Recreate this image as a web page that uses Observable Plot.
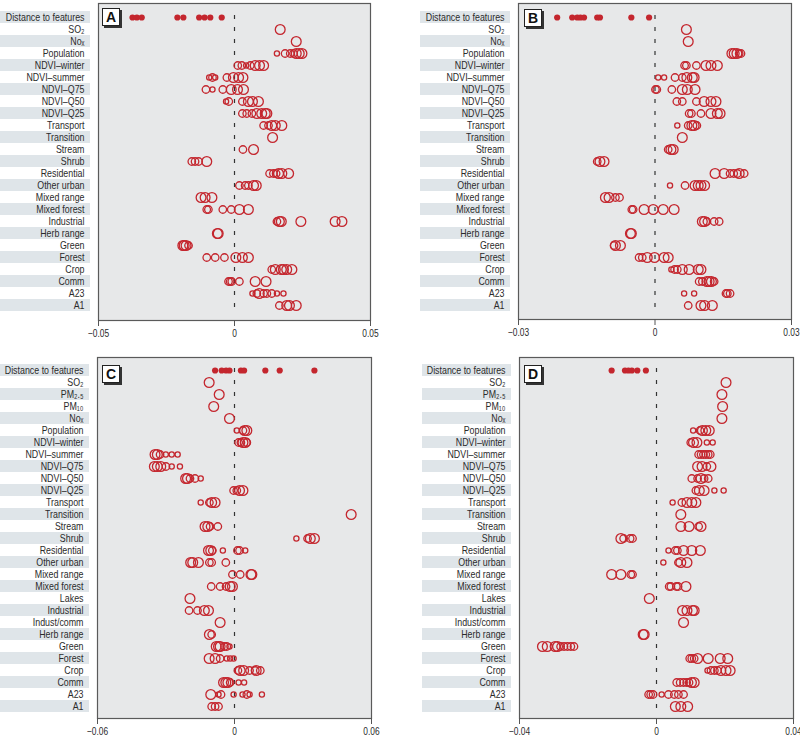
<!DOCTYPE html>
<html>
<head>
<meta charset="utf-8">
<script src="https://cdn.jsdelivr.net/npm/d3@7"></script>
<script src="https://cdn.jsdelivr.net/npm/@observablehq/plot@0.6"></script>
<style>
  body { margin: 0; background: #fff; }
  #chart { position: relative; width: 800px; height: 738px; overflow: hidden;
    font-family: "Liberation Sans", Arial, sans-serif; }
  .panel { position: absolute; }
  .tag { position: absolute; width: 16px; height: 16px; background: #fff; border: 1px solid #222;
    box-shadow: 2px 2px 0 #333; font: bold 14px "Liberation Sans", Arial, sans-serif;
    line-height: 16px; text-align: center; color: #111; }
</style>
</head>
<body>
<div id="chart"></div>
<script>
// ---------- DATA ----------
const rowsAB = ["Distance to features","SO₂","Noₓ","Population","NDVI–winter","NDVI–summer","NDVI–Q75","NDVI–Q50","NDVI–Q25","Transport","Transition","Stream","Shrub","Residential","Other urban","Mixed range","Mixed forest","Industrial","Herb range","Green","Forest","Crop","Comm","A23","A1"];
const rowsCD = ["Distance to features","SO₂","PM₂.₅","PM₁₀","Noₓ","Population","NDVI–winter","NDVI–summer","NDVI–Q75","NDVI–Q50","NDVI–Q25","Transport","Transition","Stream","Shrub","Residential","Other urban","Mixed range","Mixed forest","Lakes","Industrial","Indust/comm","Herb range","Green","Forest","Crop","Comm","A23","A1"];

const ticksA = [-0.05, 0, 0.05];
const ticksB = [-0.03, 0, 0.03];
const ticksC = [-0.06, 0, 0.06];
const ticksD = [-0.04, 0, 0.04];

const valuesA = [
  [-0.0375,-0.0359,-0.0341,-0.021,-0.0188,-0.013,-0.011,-0.0089,-0.0047],
  [0.0168],
  [0.0227],
  [0.0156,0.0186,0.0205,0.0217,0.0227,0.0238,0.0248],
  [0.0012,0.0027,0.0043,0.0058,0.0076,0.0092,0.0107],
  [-0.0093,-0.0081,-0.0071,-0.0028,-0.0004,0.0015,0.0031],
  [-0.0105,-0.0081,-0.0043,-0.0012,0.0011,0.0033],
  [-0.0031,-0.0021,0.0029,0.0051,0.0066,0.0088],
  [0.0029,0.0045,0.0064,0.0082,0.01,0.0113,0.0119],
  [0.0107,0.0125,0.0137,0.015,0.0174],
  [0.014],
  [0.0031,0.007],
  [-0.0157,-0.0145,-0.0132,-0.0102],
  [0.0129,0.0143,0.0153,0.0162,0.0174,0.0199],
  [0.0018,0.0039,0.0051,0.007,0.008],
  [-0.0123,-0.0108,-0.0083],
  [-0.0102,-0.0096,-0.0043,-0.0012,0.0018,0.0051],
  [0.0156,0.0165,0.0172,0.0244,0.037,0.0395],
  [-0.0063,-0.006],
  [-0.019,-0.0185,-0.0178,-0.0169],
  [-0.0102,-0.0071,-0.0037,0.0005,0.0029,0.0051],
  [0.0137,0.015,0.0172,0.018,0.0192,0.0211],
  [-0.0022,-0.0016,-0.001,0.0018,0.0076,0.0116],
  [0.0066,0.0082,0.0091,0.0107,0.0119,0.0137,0.0156,0.018],
  [0.0165,0.0192,0.0202,0.0227]
];
const sizesA = [
  [],[3],[3],[1,2,2,2,3,3,3],[2,2,1,2,3,3,3],[1,2,1,2,3,3,3],[2,1,2,3,3,3],[1,2,2,3,3,3],
  [2,2,2,3,3,3,3],[2,2,3,3,3],[3],[2,3],[2,2,2,3],[2,2,2,3,3,3],[2,2,2,3,3],[3,3,3],
  [2,2,2,2,3,3],[2,3,3,3,3,3],[3,3],[3,3,3,2],[2,2,2,3,3,3],[2,3,3,3,3,3],[2,2,2,2,3,3],
  [1,2,3,2,2,2,1,1],[2,3,3,3]
];

const valuesB = [
  [-0.0215,-0.0182,-0.0171,-0.0164,-0.0156,-0.0127,-0.0121,-0.0052,-0.0013],
  [0.0069],
  [0.0073],
  [0.0169,0.0174,0.018,0.0185,0.0189],
  [0.0065,0.0069,0.0091,0.0112,0.0123,0.0137],
  [0.0007,0.002,0.0044,0.006,0.007,0.0082,0.0086],
  [0.0001,0.0004,0.0037,0.006,0.0071,0.0088],
  [0.0048,0.006,0.0091,0.0108,0.0123,0.0134],
  [0.0075,0.008,0.0101,0.0123,0.0137,0.0143],
  [0.0049,0.0073,0.0081,0.0086,0.0092],
  [0.006],
  [0.0029,0.0035,0.004],
  [-0.0127,-0.0121,-0.0112],
  [0.0132,0.0152,0.0165,0.0173,0.0181,0.0185,0.0196],
  [0.0033,0.0066,0.0088,0.0095,0.0101,0.0109],
  [-0.0109,-0.0101,-0.0087,-0.0078],
  [-0.0051,-0.0048,-0.0024,-0.0004,0.0018,0.0042],
  [0.0104,0.0109,0.0114,0.013,0.0141],
  [-0.0054,-0.0052],
  [-0.009,-0.0087,-0.0076],
  [-0.0035,-0.0028,-0.0017,-0.0001,0.002,0.0029],
  [0.0036,0.0043,0.0049,0.006,0.0075,0.0095,0.0101],
  [0.0097,0.0104,0.0114,0.0119,0.0124,0.013],
  [0.0064,0.0086,0.0156,0.0159,0.0165],
  [0.0073,0.0101,0.0109,0.0126]
];
const sizesB = [
  [],[3],[3],[3,3,3,2,2],[2,2,2,3,3,3],[1,1,2,2,3,3,3],[2,2,2,3,3,3],[2,2,2,3,3,3],
  [2,2,2,3,3,3],[1,2,3,3,2],[3],[2,3,3],[2,3,3],[3,3,2,2,2,3,2],[1,2,3,3,3,3],[3,3,2,2],
  [2,2,3,3,3,3],[3,3,2,2,2],[3,3],[2,3,3],[2,2,3,3,3,3],[1,2,2,3,3,3,3],[2,2,3,3,3,2],
  [1,1,2,2,2],[2,3,3,3]
];

const valuesC = [
  [-0.0085,-0.0056,-0.0037,-0.0022,0.0028,0.0042,0.0135,0.0198,0.035],
  [-0.0111],
  [-0.0067],
  [-0.0091],
  [-0.0022],
  [0.001,0.0037,0.0044,0.0054],
  [0.0018,0.0028,0.0037,0.0047,0.0054],
  [-0.0348,-0.0338,-0.0326,-0.0301,-0.0275,-0.0249],
  [-0.0351,-0.0338,-0.0323,-0.03,-0.0275,-0.0239],
  [-0.0214,-0.0206,-0.0195,-0.0173,-0.0148],
  [-0.0004,0.001,0.0022,0.0037],
  [-0.0148,-0.011,-0.01,-0.0085],
  [0.0511],
  [-0.0129,-0.0117,-0.0107,-0.0073],
  [0.0271,0.032,0.0332,0.035],
  [-0.0114,-0.0104,-0.0097,-0.0051,0.0013,0.0022,0.0047],
  [-0.0192,-0.0183,-0.0158,-0.011,-0.01,-0.0038],
  [-0.0009,0.0025,0.0072,0.0076],
  [-0.0102,-0.0063,-0.0037,-0.0019,-0.0009],
  [-0.0195],
  [-0.0199,-0.0162,-0.0132,-0.0114],
  [-0.0063],
  [-0.011,-0.01],
  [-0.008,-0.007,-0.0063,-0.0044,-0.0034,-0.0022],
  [-0.0111,-0.0085,-0.0063,-0.0034,-0.0019,-0.0004],
  [0.0015,0.0025,0.004,0.0066,0.0091,0.0095,0.0113],
  [-0.0048,-0.0038,-0.0029,-0.0019,0.0018,0.0042],
  [-0.0104,-0.007,-0.0059,-0.0004,0.0035,0.0054,0.0066,0.012],
  [-0.01,-0.0085,-0.007]
];
const sizesC = [
  [],[3],[3],[3],[3],[1,2,3,3],[2,2,3,3,2],[3,3,2,1,1,1],[3,3,3,2,1,1],[3,3,2,2,1],
  [2,2,3,3],[1,2,3,3],[3],[3,3,2,2],[1,2,3,3],[3,3,2,1,2,2,1],[3,3,3,2,2,2],[2,2,3,3],
  [2,2,2,3,3],[3],[2,2,3,3],[3],[3,2],[3,3,3,2,2,1],[3,3,2,1,1,1],[2,3,3,2,2,3,2],
  [3,3,3,2,1,1],[3,1,2,1,1,2,1,1],[2,2,2]
];

const valuesD = [
  [-0.0131,-0.0092,-0.0082,-0.0072,-0.0056,-0.0031],
  [0.0203],
  [0.0191],
  [0.0193],
  [0.0191],
  [0.0107,0.0127,0.0134,0.0144,0.0154],
  [0.01,0.0108,0.0118,0.0147,0.0164],
  [0.0123,0.013,0.0137,0.0144,0.0151,0.0157],
  [0.012,0.0133,0.0147,0.0159],
  [0.0103,0.012,0.013,0.0139,0.0151],
  [0.0115,0.0125,0.0139,0.0169,0.0196],
  [0.0047,0.0074,0.0089,0.0103,0.0115],
  [0.0071],
  [0.0071,0.0095,0.0123,0.013],
  [-0.0104,-0.0096,-0.0077,-0.007],
  [0.0035,0.0055,0.0061,0.0079,0.0103,0.0128],
  [0.002,0.0064,0.0071,0.0089],
  [-0.0131,-0.0104,-0.0075,-0.007],
  [0.0037,0.0042,0.0058,0.0063,0.0086],
  [-0.0021],
  [0.0076,0.0089,0.0105,0.011],
  [0.0079],
  [-0.0039,-0.0036],
  [-0.0333,-0.0319,-0.0296,-0.0289,-0.028,-0.027,-0.026,-0.025,-0.0241],
  [0.0097,0.0103,0.011,0.012,0.0151,0.0186,0.0208],
  [0.0149,0.0159,0.0169,0.0178,0.0188,0.0203,0.0215],
  [0.0059,0.0069,0.0079,0.0088,0.0095,0.0102,0.011],
  [-0.0023,-0.0017,-0.001,0.0015,0.0035,0.0052,0.0064,0.0079],
  [0.0055,0.0071,0.0091]
];
const sizesD = [
  [],[3],[3],[3],[3],[1,2,3,3,3],[2,3,3,1,1],[2,2,2,2,2,2],[3,3,2,3],[2,2,3,2,2],
  [2,3,3,1,1],[1,2,3,3,3],[3],[3,3,2,3],[3,2,2,2],[1,2,2,3,3,3],[1,2,3,3],[3,3,2,2],
  [2,2,2,2,3],[3],[3,3,3,3],[3],[3,3],[3,3,3,3,2,2,2,2,2],[2,2,2,3,3,3,3],[1,2,2,2,3,3,3],
  [2,2,2,2,2,3,3],[2,2,2,1,2,2,2,2],[3,3,3]
];

// ---------- STYLE ----------
const RED = "#c4262e";
const STRIPE = "#dfe5e9";
const PANEL_BG = "#e7e8e9";
const FONT = '"Liberation Sans", Arial, sans-serif';
const fmt = d => d === 0 ? "0" : d3.format(".2~f")(d);

function condense(svg, selector, factor) {
  svg.querySelectorAll(selector).forEach(t => {
    const w = t.getComputedTextLength();
    if (w > 0) {
      t.setAttribute("textLength", (w * factor).toFixed(2));
      t.setAttribute("lengthAdjust", "spacingAndGlyphs");
    }
  });
}

function panel(cfg) {
  const {rows, values, sizes, ticks, left, top, width, height, mL, mR, mT, mB, inT, inB, stripeStart, tag, tagX, tagY} = cfg;
  const dom = [ticks[0], ticks[ticks.length - 1]];
  const frameW = width - mL - mR;
  const pts = [];
  const dist = [];
  rows.forEach((r, i) => values[i].forEach((v, j) => {
    if (i === 0) dist.push({row: r, v});
    else pts.push({row: r, v, s: sizes[i][j]});
  }));
  const shaded = rows.filter((d, i) => i % 2 === 0);
  const svg = Plot.plot({
    width, height,
    marginLeft: mL, marginRight: mR, marginTop: mT, marginBottom: mB,
    style: {fontFamily: FONT, fontSize: "11.5px", color: "#2b2b2b", background: "transparent", overflow: "visible"},
    x: {domain: dom, label: null},
    y: {domain: rows, type: "band", padding: 0, insetTop: inT, insetBottom: inB, label: null},
    r: {type: "linear", domain: [1, 3], range: [2.6, 4.9]},
    marks: [
      Plot.barX(shaded, {x1: () => dom[0], x2: () => dom[1], y: d => d, fill: STRIPE,
        insetLeft: -(mL - stripeStart), insetRight: frameW + 8}),
      Plot.frame({fill: PANEL_BG, stroke: "#5a5a5a", strokeWidth: 1.2}),
      Plot.tickX(rows, {x: () => 0, y: d => d, stroke: "#333", strokeWidth: 1.2, inset: 4}),
      Plot.dot(pts, {x: "v", y: "row", r: "s", stroke: RED, fill: "none", strokeWidth: 1.3}),
      Plot.dot(dist, {x: "v", y: "row", r: 3.1, fill: RED, stroke: "none"}),
      Plot.axisY({tickSize: 0, tickPadding: 14, fontSize: 11.5, label: null}),
      Plot.axisX({ticks, tickFormat: fmt, tickSize: 6, tickPadding: 3, fontSize: 10.5, stroke: "#555", label: null})
    ]
  });
  const wrap = document.createElement("div");
  wrap.className = "panel";
  wrap.style.left = left + "px";
  wrap.style.top = top + "px";
  wrap.appendChild(svg);
  document.getElementById("chart").appendChild(wrap);
  condense(svg, '[aria-label="y-axis tick label"] text', 0.77);
  condense(svg, '[aria-label="x-axis tick label"] text', 0.8);
  const t = document.createElement("div");
  t.className = "tag";
  t.textContent = tag;
  t.style.left = tagX + "px";
  t.style.top = tagY + "px";
  document.getElementById("chart").appendChild(t);
}

panel({rows: rowsAB, values: valuesA, sizes: sizesA, ticks: ticksA, left: 0, top: 0, width: 400, height: 345,
  mL: 98, mR: 30, mT: 3, mB: 25, inT: 1.5, inB: 3, stripeStart: 0, tag: "A", tagX: 102, tagY: 8});
panel({rows: rowsAB, values: valuesB, sizes: sizesB, ticks: ticksB, left: 400, top: 0, width: 400, height: 345,
  mL: 118, mR: 9, mT: 3, mB: 26, inT: 1.5, inB: 2.5, stripeStart: 20, tag: "B", tagX: 524, tagY: 9});
panel({rows: rowsCD, values: valuesC, sizes: sizesC, ticks: ticksC, left: 0, top: 350, width: 400, height: 388,
  mL: 97, mR: 29, mT: 7, mB: 20, inT: 2.5, inB: 1, stripeStart: 0, tag: "C", tagX: 102, tagY: 365});
panel({rows: rowsCD, values: valuesD, sizes: sizesD, ticks: ticksD, left: 400, top: 350, width: 400, height: 388,
  mL: 119, mR: 7, mT: 7, mB: 20, inT: 2.5, inB: 1, stripeStart: 22, tag: "D", tagX: 524, tagY: 365});
</script>
</body>
</html>
